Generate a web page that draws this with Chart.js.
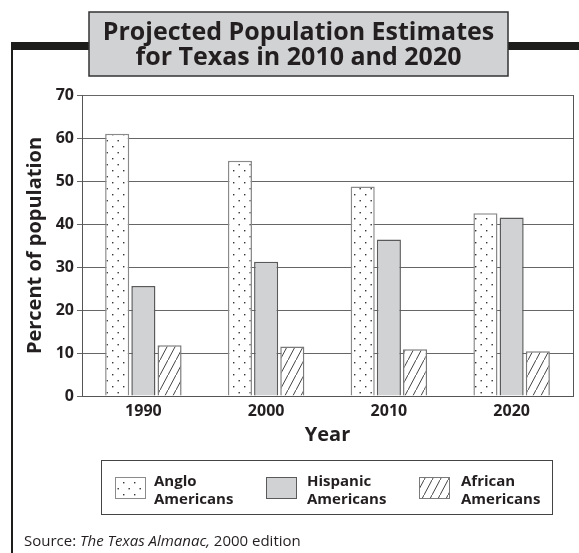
<!DOCTYPE html>
<html>
<head>
<meta charset="utf-8">
<title>Projected Population Estimates for Texas in 2010 and 2020</title>
<script src="https://cdn.jsdelivr.net/npm/chart.js@4.4.0/dist/chart.umd.min.js"></script>
<style>
  html, body { margin: 0; padding: 0; background: #fff; }
  #wrap { width: 579px; height: 553px; }
</style>
</head>
<body>
<div id="wrap"><canvas id="chart" width="579" height="553"></canvas></div>
<script>
// Share of Texas population by group, percent
const years = ['1990', '2000', '2010', '2020'];
const angloPct = [61.0, 54.7, 48.7, 42.5];
const hispanicPct = [25.6, 31.2, 36.4, 41.5];
const africanPct = [11.8, 11.5, 10.9, 10.4];
const seriesNames = ['Anglo Americans', 'Hispanic Americans', 'African Americans'];
const yTickValues = [0, 10, 20, 30, 40, 50, 60, 70];

const titleLines = ['Projected Population Estimates', 'for Texas in 2010 and 2020'];
const xAxisTitle = 'Year';
const yAxisTitle = 'Percent of population';
const sourceParts = [
  { text: 'Source: ', italic: false },
  { text: 'The Texas Almanac,', italic: true },
  { text: ' 2000 edition', italic: false }
];

const FONT = '"Open Sans", "Noto Sans", sans-serif';
const INK = '#231f20';
const GREY_FILL = '#d1d2d4';

// Fill patterns: stipple for Anglo, diagonal hatch for African
function makeDots() {
  const w = 11, h = 12;
  const c = document.createElement('canvas');
  c.width = w; c.height = h;
  const g = c.getContext('2d');
  g.fillStyle = '#ffffff';
  g.fillRect(0, 0, w, h);
  g.fillStyle = '#333';
  g.fillRect(2, 2, 1.4, 1.4);
  g.fillRect(7.5, 8, 1.4, 1.4);
  return g.createPattern(c, 'repeat');
}
function makeHatch() {
  const w = 8, h = 15;
  const c = document.createElement('canvas');
  c.width = w; c.height = h;
  const g = c.getContext('2d');
  g.fillStyle = '#ffffff';
  g.fillRect(0, 0, w, h);
  g.strokeStyle = '#444';
  g.lineWidth = 1;
  g.beginPath();
  g.moveTo(-1, h + 15 / 8);
  g.lineTo(w + 1, -15 / 8);
  g.stroke();
  return g.createPattern(c, 'repeat');
}
const dots = makeDots();
const hatch = makeHatch();

// Page frame: heavy rule, left rule and the boxed heading
const framePlugin = {
  id: 'frame',
  beforeDraw(chart) {
    const ctx = chart.ctx;
    ctx.save();
    ctx.fillStyle = '#ffffff';
    ctx.fillRect(0, 0, chart.width, chart.height);
    ctx.fillStyle = '#1d1d1b';
    ctx.fillRect(11, 42, 80, 8);
    ctx.fillRect(506, 42, chart.width - 506, 8);
    ctx.fillRect(11, 42, 2, chart.height - 42);
    // heading box
    ctx.fillStyle = GREY_FILL;
    ctx.fillRect(89, 12, 419, 64);
    ctx.strokeStyle = '#333';
    ctx.lineWidth = 1.5;
    ctx.strokeRect(89, 12, 419, 64);
    ctx.fillStyle = INK;
    ctx.font = 'bold 25px ' + FONT;
    ctx.textAlign = 'center';
    ctx.textBaseline = 'alphabetic';
    ctx.fillText(titleLines[0], 298.5, 40);
    ctx.fillText(titleLines[1], 298.5, 65);
    ctx.restore();
  },
  beforeDatasetsDraw(chart) {
    const { ctx, chartArea } = chart;
    ctx.save();
    ctx.strokeStyle = '#555';
    ctx.lineWidth = 1;
    ctx.beginPath();
    ctx.moveTo(Math.round(chartArea.right) + 0.5, chartArea.top);
    ctx.lineTo(Math.round(chartArea.right) + 0.5, chartArea.bottom);
    ctx.stroke();
    ctx.restore();
  }
};

// Boxed key below the axis and the source line
const keyPlugin = {
  id: 'key',
  afterDraw(chart) {
    const ctx = chart.ctx;
    ctx.save();
    ctx.strokeStyle = '#444';
    ctx.lineWidth = 1;
    ctx.strokeRect(101.5, 460.5, 451, 54);
    const swatchX = [115, 266, 419];
    const textX = [154, 307, 461];
    chart.data.datasets.forEach((ds, i) => {
      ctx.fillStyle = ds.backgroundColor;
      ctx.fillRect(swatchX[i], 477, 30, 21);
      ctx.strokeStyle = ds.borderColor;
      ctx.lineWidth = 1;
      ctx.strokeRect(swatchX[i] + 0.5, 477.5, 30, 21);
      const words = ds.label.split(' ');
      ctx.fillStyle = INK;
      ctx.font = 'bold 15px ' + FONT;
      ctx.textAlign = 'left';
      ctx.textBaseline = 'alphabetic';
      ctx.fillText(words[0], textX[i], 486);
      ctx.fillText(words.slice(1).join(' '), textX[i], 504);
    });
    let x = 24;
    ctx.fillStyle = INK;
    sourceParts.forEach(p => {
      ctx.font = (p.italic ? 'italic ' : '') + '15px ' + FONT;
      ctx.fillText(p.text, x, 546);
      x += ctx.measureText(p.text).width;
    });
    ctx.restore();
  }
};

new Chart(document.getElementById('chart'), {
  type: 'bar',
  data: {
    labels: years,
    datasets: [
      { label: seriesNames[0], data: angloPct, backgroundColor: dots, borderColor: '#8a8a8a', borderWidth: 1.5 },
      { label: seriesNames[1], data: hispanicPct, backgroundColor: GREY_FILL, borderColor: '#5a5a5a', borderWidth: 1.5 },
      { label: seriesNames[2], data: africanPct, backgroundColor: hatch, borderColor: '#7a7a7a', borderWidth: 1.5 }
    ]
  },
  options: {
    responsive: false,
    animation: false,
    devicePixelRatio: 1,
    layout: { padding: { top: 95, right: 6, bottom: 0, left: 0 } },
    datasets: { bar: { categoryPercentage: 0.64, barPercentage: 0.92 } },
    plugins: {
      legend: { display: false },
      title: { display: false },
      tooltip: { enabled: false }
    },
    scales: {
      x: {
        grid: { display: false },
        border: { display: true, color: '#555', width: 1 },
        ticks: { color: INK, font: { family: FONT, size: 16, weight: 'bold' }, padding: -2 },
        title: {
          display: true, text: xAxisTitle, color: INK,
          font: { family: FONT, size: 20, weight: 'bold' },
          padding: { top: 0, bottom: 106 }
        },
        afterFit(scale) { scale.height = 157; }
      },
      y: {
        min: 0, max: 70,
        afterBuildTicks(scale) { scale.ticks = yTickValues.map(v => ({ value: v })); },
        grid: { color: '#666', lineWidth: 1, tickLength: 5, drawTicks: true },
        border: { display: true, color: '#555', width: 1 },
        ticks: { color: INK, font: { family: FONT, size: 16, weight: 'bold' }, padding: 3 },
        title: {
          display: true, text: yAxisTitle, color: INK,
          font: { family: FONT, size: 20, weight: 'bold' },
          padding: { top: 23, bottom: 0 }
        },
        afterFit(scale) { scale.width = 82; }
      }
    }
  },
  plugins: [framePlugin, keyPlugin]
});
</script>
</body>
</html>
